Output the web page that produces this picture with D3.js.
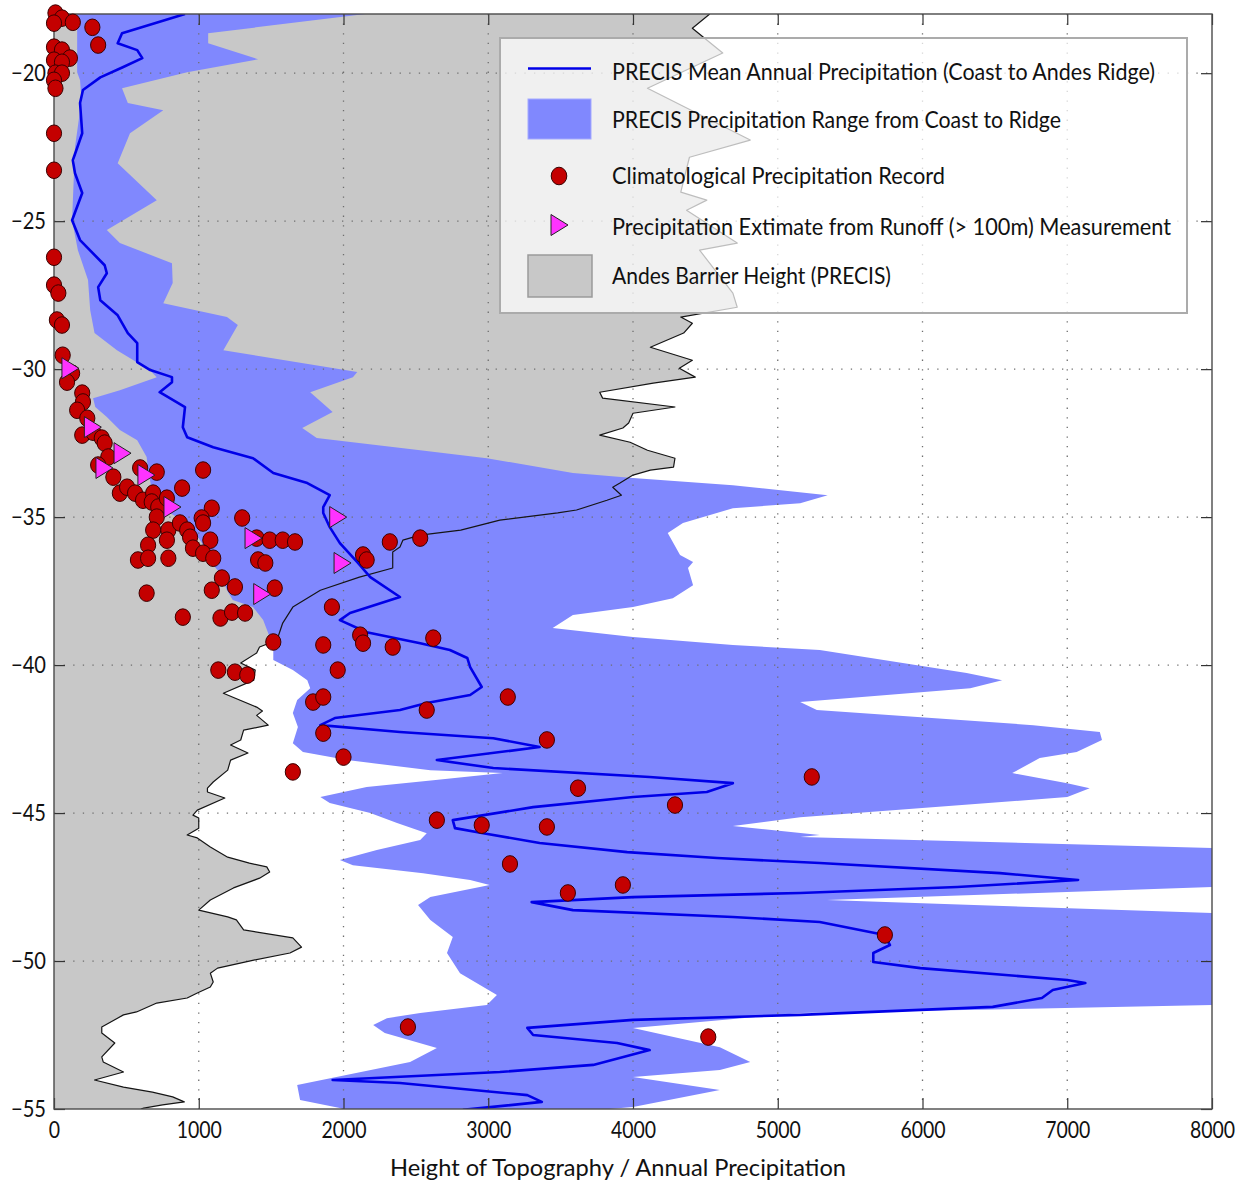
<!DOCTYPE html>
<html>
<head>
<meta charset="utf-8">
<script src="https://cdn.jsdelivr.net/npm/d3@7"></script>
<style>
  html, body { margin: 0; padding: 0; background: #fff; }
  svg { display: block; font-family: Lato, "Open Sans", sans-serif; }
</style>
</head>
<body>
<svg id="chart" width="1244" height="1182"></svg>
<script>
// Axis ticks
const latTicks = [-55, -50, -45, -40, -35, -30, -25, -20];
const heightTicks = [0, 1000, 2000, 3000, 4000, 5000, 6000, 7000, 8000];

// Andes barrier height along the coast: [latitude, metres]
const topography = [
  [-18.00,4530],[-18.48,4410],[-19.32,4620],[-20.51,4100],[-22.26,4810],[-22.84,4390],[-24.02,4330],
  [-24.29,4510],[-24.63,4370],[-25.74,4720],[-25.98,4460],[-27.43,4690],[-27.91,4720],[-28.24,4330],
  [-28.45,4410],[-28.78,4350],[-29.26,4120],[-29.70,4410],[-29.97,4320],[-30.27,4430],[-30.47,4140],
  [-30.78,3770],[-30.98,3790],[-31.28,4290],[-31.49,4000],[-31.82,3970],[-31.99,3930],[-32.23,3770],
  [-32.47,3980],[-32.74,4100],[-33.01,4290],[-33.31,4280],[-33.41,4120],[-33.58,4000],[-33.85,3910],
  [-33.99,3860],[-34.26,3920],[-34.43,3820],[-34.76,3610],[-34.86,3480],[-35.10,3080],[-35.44,2810],
  [-35.61,2530],[-35.78,2410],[-36.01,2390],[-36.18,2340],[-36.72,2340],[-37.03,2110],[-37.47,1840],
  [-38.04,1650],[-38.58,1580],[-39.16,1540],[-39.39,1420],[-39.59,1400],[-39.93,1290],[-40.17,1390],
  [-40.51,1380],[-40.95,1170],[-41.42,1400],[-41.55,1440],[-41.70,1400],[-42.03,1480],[-42.20,1310],
  [-42.53,1290],[-42.70,1220],[-42.97,1340],[-43.21,1220],[-43.55,1200],[-43.95,1100],[-44.16,1060],
  [-44.29,1060],[-44.49,1180],[-44.90,990],[-45.07,960],[-45.17,1000],[-45.51,1000],[-45.74,920],
  [-45.84,990],[-46.15,1080],[-46.49,1200],[-46.69,1350],[-46.82,1470],[-46.99,1490],[-47.20,1420],
  [-47.53,1240],[-47.94,1080],[-48.28,1000],[-48.51,1200],[-48.61,1260],[-48.95,1310],[-49.22,1650],
  [-49.53,1710],[-49.73,1630],[-49.97,1380],[-50.24,1130],[-50.41,1080],[-50.71,1100],[-50.88,1080],
  [-51.08,990],[-51.25,920],[-51.42,710],[-51.72,570],[-51.82,480],[-52.23,330],[-52.43,330],
  [-52.77,420],[-53.24,330],[-53.41,340],[-53.75,480],[-54.02,280],[-54.26,480],[-54.43,680],
  [-54.59,820],[-54.76,900],[-54.86,750],[-54.97,620],[-55.00,600]
];

// PRECIS precipitation range, coast to ridge: lower and upper bounds [latitude, mm]
const precipLow = [
  [-18.00,160],[-19.97,160],[-20.24,180],[-20.91,190],[-22.50,145],[-24.97,125],[-25.98,165],
  [-26.99,235],[-28.01,250],[-28.78,280],[-29.36,435],[-30.03,660],[-30.27,710],[-30.71,455],
  [-30.98,270],[-31.28,285],[-31.62,365],[-32.06,455],[-32.40,575],[-32.97,640],[-33.41,650],
  [-34.32,685],[-34.76,765],[-35.20,920],[-35.68,995],[-36.11,1055],[-36.55,1090],[-36.89,1145],
  [-37.47,1195],[-37.80,1235],[-38.04,1375],[-38.48,1445],[-39.05,1490],[-39.39,1515],[-39.83,1515],
  [-40.17,1650],[-40.51,1750],[-40.78,1770],[-41.18,1680],[-41.62,1650],[-42.09,1685],[-42.64,1650],
  [-42.94,1720],[-43.21,2025],[-43.55,2600],[-43.65,3100],[-43.89,2620],[-44.12,2160],[-44.46,1840],
  [-44.66,1905],[-45.00,2185],[-45.34,2370],[-45.68,2575],[-45.91,2530],[-46.25,2230],[-46.59,1975],
  [-46.76,2065],[-47.03,2550],[-47.26,2875],[-47.43,3010],[-47.84,2600],[-48.11,2515],[-48.61,2600],
  [-49.19,2755],[-49.73,2715],[-50.41,2805],[-51.15,3060],[-51.49,2990],[-51.76,2530],[-51.93,2300],
  [-52.16,2205],[-52.43,2285],[-52.94,2645],[-53.41,2460],[-54.19,1680],[-54.70,1700],[-54.97,1975],
  [-55.10,2050]
];
const precipHigh = [
  [-18.00,2150],[-18.65,1065],[-18.99,1065],[-19.53,1410],[-19.97,920],[-20.51,470],[-21.01,510],
  [-21.25,755],[-22.03,525],[-23.04,440],[-24.29,710],[-25.30,365],[-25.74,455],[-26.42,815],
  [-27.09,820],[-27.77,755],[-28.24,1195],[-28.51,1270],[-29.36,1170],[-30.10,2095],[-30.27,2065],
  [-30.78,1770],[-31.45,1925],[-31.99,1715],[-32.33,1815],[-32.74,2530],[-33.01,2990],[-33.51,3585],
  [-33.68,4000],[-33.92,4690],[-34.26,5345],[-34.53,5155],[-34.70,4690],[-35.20,4345],[-35.54,4240],
  [-36.28,4325],[-36.52,4415],[-36.72,4380],[-37.30,4415],[-37.74,4275],[-38.04,4000],[-38.31,3585],
  [-38.75,3445],[-39.05,4000],[-39.32,4690],[-39.49,5290],[-40.27,6305],[-40.51,6550],[-40.78,6330],
  [-41.25,5155],[-41.52,5270],[-42.03,6765],[-42.26,7225],[-42.53,7240],[-42.94,7065],[-43.14,6810],
  [-43.65,6620],[-43.99,7000],[-44.16,7155],[-44.46,7000],[-45.14,5155],[-45.44,4690],[-45.74,5290],
  [-45.81,5155],[-46.18,8000],[-47.50,8000],[-47.94,5340],[-48.38,8000],[-51.49,8000],[-51.76,5155],
  [-52.26,4000],[-52.91,4600],[-53.41,4810],[-53.68,4600],[-53.92,4000],[-54.36,4600],[-54.93,4000],
  [-55.10,3600]
];

// PRECIS mean annual precipitation, coast to Andes ridge [latitude, mm]
const precipMean = [
  [-18.00,905],[-18.65,470],[-18.99,440],[-19.22,575],[-19.49,610],[-19.80,475],[-20.14,320],
  [-20.57,200],[-21.01,180],[-22.03,195],[-22.94,130],[-23.38,145],[-24.05,195],[-24.97,125],
  [-25.64,180],[-26.49,350],[-26.76,365],[-27.23,305],[-27.67,320],[-28.18,440],[-28.78,510],
  [-29.12,575],[-29.76,575],[-30.03,665],[-30.27,815],[-30.44,815],[-30.78,730],[-31.28,905],
  [-31.96,890],[-32.30,920],[-32.64,1100],[-33.01,1375],[-33.51,1515],[-33.85,1750],[-34.26,1905],
  [-34.66,1860],[-34.86,1860],[-35.34,1905],[-35.88,1975],[-36.55,2100],[-37.03,2185],[-37.70,2390],
  [-38.24,2045],[-38.48,1975],[-38.89,2160],[-39.26,2530],[-39.49,2735],[-39.76,2855],[-40.07,2875],
  [-40.74,2955],[-41.01,2875],[-41.28,2575],[-41.52,2390],[-41.79,1940],[-42.03,1840],[-42.26,2390],
  [-42.47,3035],[-42.77,3355],[-43.21,2645],[-43.48,3035],[-43.78,4115],[-43.99,4690],[-44.29,4510],
  [-44.46,4000],[-44.80,3310],[-45.24,2755],[-45.51,2770],[-45.68,2965],[-46.01,3355],[-46.32,3960],
  [-46.52,4580],[-46.69,5290],[-47.03,6535],[-47.26,7075],[-47.50,6240],[-47.70,5155],[-47.84,4000],
  [-48.01,3300],[-48.28,3585],[-48.51,4690],[-48.68,5290],[-49.12,5740],[-49.46,5775],[-49.73,5660],
  [-50.03,5660],[-50.24,5985],[-50.64,7000],[-50.74,7125],[-50.98,6900],[-51.25,6825],[-51.55,6485],
  [-51.82,5155],[-51.99,4000],[-52.26,3270],[-52.50,3310],[-52.77,3890],[-53.01,4115],[-53.51,3725],
  [-53.75,3080],[-54.02,1925],[-54.12,2390],[-54.53,3270],[-54.76,3370],[-55.03,2825]
];

// Station climatology records [latitude, mm]
const stationRecords = [
  [-17.97,10],[-18.14,55],[-18.28,130],[-18.31,0],[-18.45,265],[-19.05,305],[-19.12,0],[-19.22,55],
  [-19.49,110],[-19.56,0],[-19.63,55],[-20.00,10],[-20.00,55],[-20.24,0],[-20.51,10],[-22.03,0],
  [-23.28,0],[-26.22,0],[-27.16,0],[-27.43,30],[-28.34,20],[-28.51,55],[-29.53,60],[-30.14,125],
  [-30.44,90],[-30.81,195],[-31.11,200],[-31.39,160],[-31.66,230],[-32.23,195],[-32.13,270],
  [-32.33,330],[-32.50,350],[-32.97,375],[-33.65,410],[-33.24,305],[-34.19,455],[-33.99,505],
  [-34.19,560],[-33.34,595],[-33.48,710],[-34.43,615],[-34.19,685],[-34.49,675],[-34.66,720],
  [-34.36,780],[-34.02,885],[-33.41,1030],[-34.70,1090],[-35.03,1020],[-35.20,1030],[-35.00,710],
  [-35.44,685],[-35.44,790],[-35.78,780],[-35.20,870],[-35.44,920],[-35.68,940],[-36.05,960],
  [-35.78,1080],[-36.22,1030],[-36.39,1100],[-35.95,650],[-36.45,580],[-36.39,650],[-36.39,790],
  [-37.57,640],[-38.38,890],[-37.47,1090],[-37.06,1160],[-37.36,1250],[-38.41,1150],[-38.21,1230],
  [-38.24,1320],[-35.03,1300],[-35.71,1400],[-35.78,1490],[-35.78,1580],[-35.84,1665],[-36.45,1410],
  [-36.55,1460],[-37.40,1525],[-39.22,1515],[-38.04,1920],[-39.32,1860],[-36.28,2135],[-36.45,2160],
  [-35.84,2320],[-35.71,2530],[-38.99,2115],[-39.26,2135],[-39.39,2340],[-39.09,2620],[-40.17,1960],
  [-40.17,1135],[-40.24,1250],[-40.34,1335],[-41.25,1790],[-41.08,1860],[-41.52,2575],[-41.08,3135],
  [-42.30,1860],[-42.53,3405],[-43.11,2000],[-43.61,1650],[-44.16,3620],[-43.78,5235],[-44.73,4290],
  [-45.24,2645],[-45.41,2955],[-45.47,3405],[-46.72,3150],[-47.43,3930],[-47.70,3550],[-49.12,5740],
  [-52.23,2445],[-52.57,4520]
];

// Precipitation estimated from runoff (> 100 m) [latitude, mm]
const runoffEstimates = [
  [-29.97,110],[-31.96,265],[-32.84,470],[-33.34,345],[-33.58,635],[-34.66,815],
  [-35.71,1375],[-37.60,1435],[-35.00,1960],[-36.55,1990]
];

const legendLabels = [
  "PRECIS Mean Annual Precipitation (Coast to Andes Ridge)",
  "PRECIS Precipitation Range from Coast to Ridge",
  "Climatological Precipitation Record",
  "Precipitation Extimate from Runoff  (> 100m) Measurement",
  "Andes Barrier Height (PRECIS)"
];
const xTitle = "Height of Topography / Annual Precipitation";

// ---- layout & styles ----
const W = 1244, H = 1182;
const margin = { top: 14, right: 32, bottom: 73, left: 54 };
const innerW = W - margin.left - margin.right;
const innerH = H - margin.top - margin.bottom;

const COL = {
  terrain: "#c8c8c8",
  band: "#8088fe",
  mean: "#0000e8",
  station: "#c40000",
  runoff: "#ff33ff"
};

const x = d3.scaleLinear().domain([0, 8000]).range([margin.left, W - margin.right]);
const y = d3.scaleLinear().domain([-55, -18]).range([H - margin.bottom, margin.top]);

const svg = d3.select("#chart");

svg.append("defs").append("clipPath").attr("id", "plotClip")
  .append("rect").attr("x", margin.left).attr("y", margin.top)
  .attr("width", innerW).attr("height", innerH);

const plot = svg.append("g").attr("clip-path", "url(#plotClip)");

// terrain fill (from coast x=0 to barrier height)
const terrainArea = d3.area()
  .y(d => y(d[0]))
  .x0(x(0))
  .x1(d => x(d[1]));
plot.append("path").datum(topography)
  .attr("d", terrainArea)
  .attr("fill", COL.terrain);

// precipitation range band
const edge = d3.line().x(d => x(d[1])).y(d => y(d[0]));
const bandOutline = precipLow.concat(precipHigh.slice().reverse());
plot.append("path")
  .attr("d", edge(bandOutline) + "Z")
  .attr("fill", COL.band);

// dotted grid
const grid = plot.append("g").attr("stroke", "#6e6e6e").attr("stroke-width", 1.3)
  .attr("stroke-dasharray", "1.3 8.3").attr("fill", "none");
grid.selectAll("line.v").data(heightTicks.filter(t => t > 0 && t < 8000)).join("line")
  .attr("class", "v")
  .attr("x1", d => x(d)).attr("x2", d => x(d))
  .attr("y1", y(-18)).attr("y2", y(-55));
grid.selectAll("line.h").data(latTicks.filter(t => t > -55)).join("line")
  .attr("class", "h")
  .attr("x1", x(0)).attr("x2", x(8000))
  .attr("y1", d => y(d)).attr("y2", d => y(d));

// barrier height outline
plot.append("path").datum(topography)
  .attr("d", edge)
  .attr("fill", "none")
  .attr("stroke", "#151515")
  .attr("stroke-width", 1.2)
  .attr("stroke-linejoin", "round");

// mean precipitation line
plot.append("path").datum(precipMean)
  .attr("d", edge)
  .attr("fill", "none")
  .attr("stroke", COL.mean)
  .attr("stroke-width", 2.6)
  .attr("stroke-linejoin", "round");

// ---- axes ----
const fmt = d3.format("d");
const axisStyle = g => {
  g.select(".domain").remove();
  g.selectAll(".tick line").attr("stroke", "#333").attr("stroke-width", 1.2);
  g.selectAll(".tick text").attr("fill", "#111").style("font-size", "24px")
    .style("font-family", "Lato, 'Open Sans', sans-serif");
};

svg.append("g").attr("transform", `translate(0,${y(-55)})`)
  .call(d3.axisBottom(x).tickValues(heightTicks).tickFormat(fmt)
    .tickSizeInner(-11).tickSizeOuter(0).tickPadding(12))
  .call(axisStyle)
  .call(g => g.selectAll(".tick text").attr("textLength", d => String(d).length * 11.3)
    .attr("lengthAdjust", "spacingAndGlyphs"));

svg.append("g").attr("transform", `translate(${x(0)},0)`)
  .call(d3.axisLeft(y).tickValues(latTicks).tickFormat(fmt)
    .tickSizeInner(-11).tickSizeOuter(0).tickPadding(8))
  .call(axisStyle)
  .call(g => g.selectAll(".tick text").attr("textLength", 35)
    .attr("lengthAdjust", "spacingAndGlyphs"));

svg.append("g").attr("transform", `translate(0,${y(-18)})`)
  .call(d3.axisTop(x).tickValues(heightTicks).tickFormat("")
    .tickSizeInner(-11).tickSizeOuter(0))
  .call(axisStyle);

svg.append("g").attr("transform", `translate(${x(8000)},0)`)
  .call(d3.axisRight(y).tickValues(latTicks).tickFormat("")
    .tickSizeInner(-11).tickSizeOuter(0))
  .call(axisStyle);

// plot frame
svg.append("rect")
  .attr("x", x(0)).attr("y", y(-18))
  .attr("width", x(8000) - x(0)).attr("height", y(-55) - y(-18))
  .attr("fill", "none").attr("stroke", "#4a4a4a").attr("stroke-width", 1.4);

// station records (markers are not clipped at the frame)
svg.append("g").selectAll("ellipse").data(stationRecords).join("ellipse")
  .attr("cx", d => x(d[1])).attr("cy", d => y(d[0]))
  .attr("rx", 7.6).attr("ry", 8.3)
  .attr("fill", COL.station)
  .attr("stroke", "#3a0000").attr("stroke-width", 1);

// runoff-based estimates (right-pointing triangles)
const triPath = "M-8,-10.5L9,0L-8,10.5Z";
svg.append("g").selectAll("path").data(runoffEstimates).join("path")
  .attr("transform", d => `translate(${x(d[1])},${y(d[0])})`)
  .attr("d", triPath)
  .attr("fill", COL.runoff)
  .attr("stroke", "#222").attr("stroke-width", 1);

// x-axis title
svg.append("text")
  .attr("x", 390).attr("y", 1176)
  .attr("textLength", 456).attr("lengthAdjust", "spacingAndGlyphs")
  .style("font-size", "24px").attr("fill", "#111")
  .text(xTitle);

// ---- legend ----
const lg = svg.append("g").attr("transform", "translate(500,38)");
lg.append("rect").attr("width", 687).attr("height", 275)
  .attr("fill", "#ffffff").attr("fill-opacity", 0.72)
  .attr("stroke", "#ababab").attr("stroke-width", 2);

const rowBase = [42, 90, 146, 197, 246];
const rowWidth = [543, 449, 333, 559, 279];
lg.selectAll("text.item").data(legendLabels).join("text")
  .attr("class", "item")
  .attr("x", 112).attr("y", (d, i) => rowBase[i])
  .attr("textLength", (d, i) => rowWidth[i]).attr("lengthAdjust", "spacingAndGlyphs")
  .style("font-size", "24px").attr("fill", "#111")
  .text(d => d);

lg.append("line").attr("x1", 28).attr("x2", 91).attr("y1", 30.5).attr("y2", 30.5)
  .attr("stroke", COL.mean).attr("stroke-width", 2.6);
lg.append("rect").attr("x", 28).attr("y", 61).attr("width", 63).attr("height", 40)
  .attr("fill", COL.band).attr("stroke", "#a4a9ff").attr("stroke-width", 1);
lg.append("ellipse").attr("cx", 59).attr("cy", 138).attr("rx", 7.8).attr("ry", 8.8)
  .attr("fill", COL.station).attr("stroke", "#3a0000").attr("stroke-width", 1);
lg.append("path").attr("transform", "translate(59,187)").attr("d", triPath)
  .attr("fill", COL.runoff).attr("stroke", "#222").attr("stroke-width", 1);
lg.append("rect").attr("x", 28).attr("y", 217).attr("width", 64).attr("height", 42)
  .attr("fill", COL.terrain).attr("stroke", "#9a9a9a").attr("stroke-width", 1.5);
</script>
</body>
</html>
